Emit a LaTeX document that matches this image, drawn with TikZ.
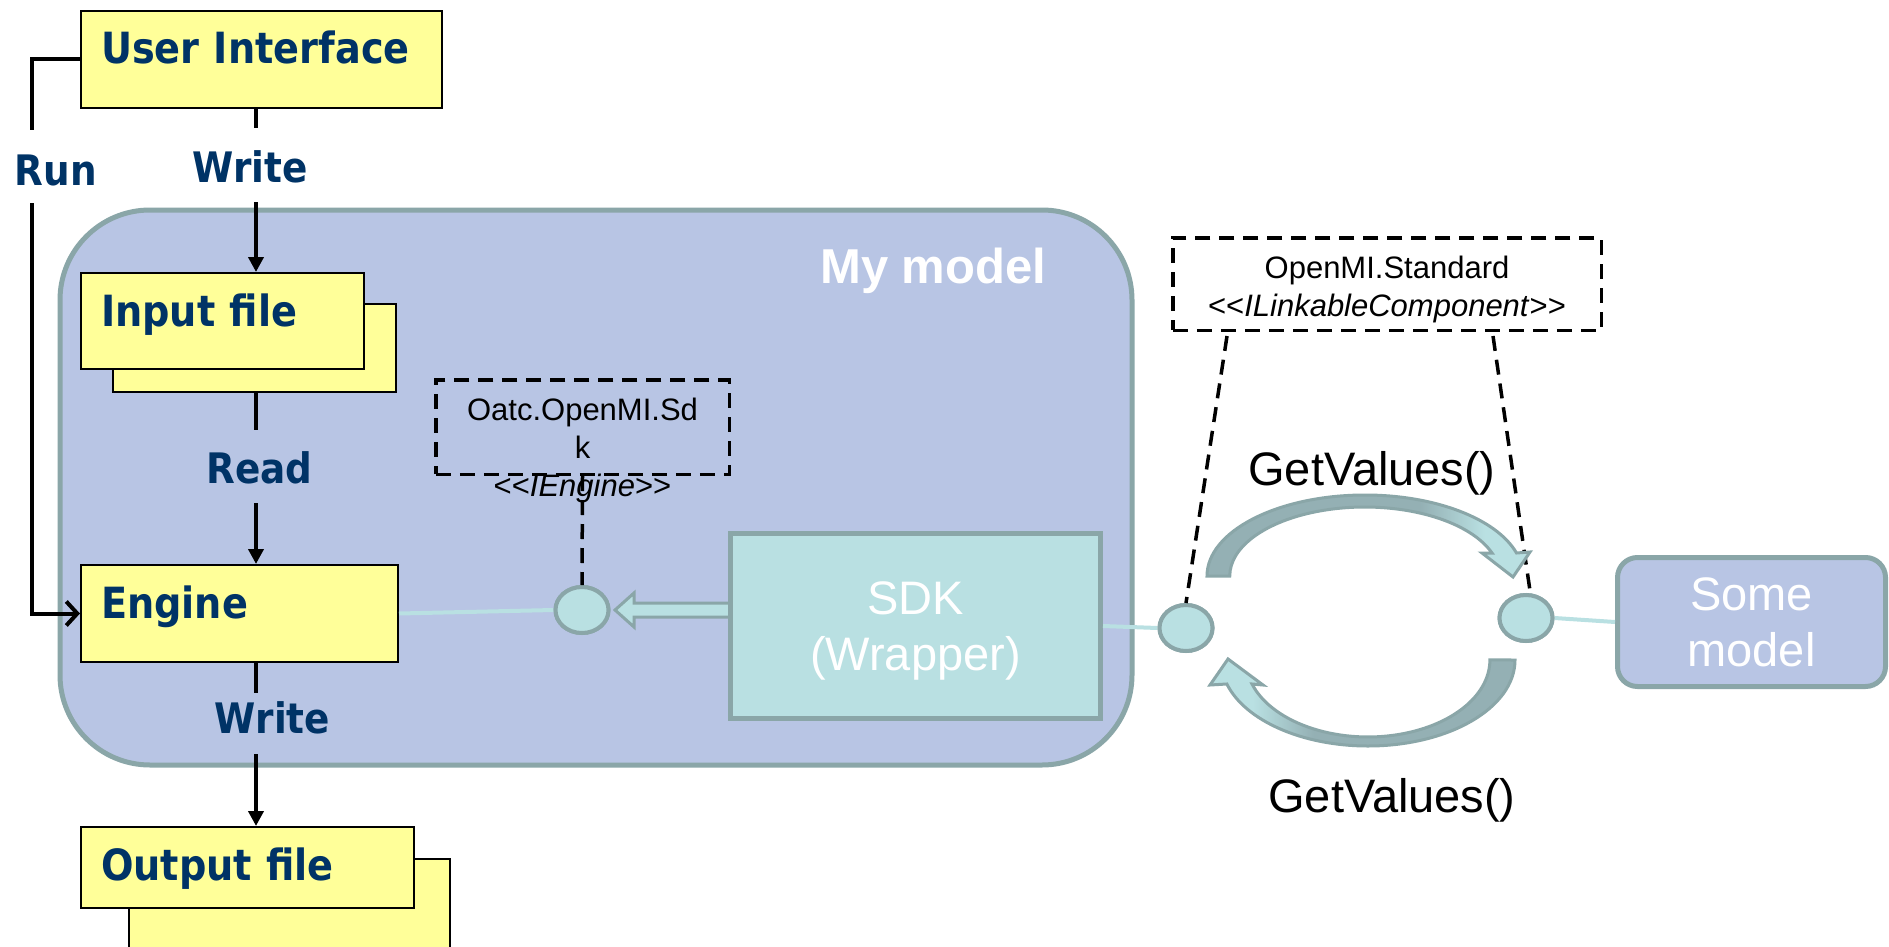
\documentclass[tikz,border=0pt]{standalone}
\usepackage{fontspec}
\setmainfont{Liberation Sans}
\newfontfamily\tahfont[FakeStretch=0.89]{DejaVu Sans}
\usetikzlibrary{arrows.meta,shapes.geometric,calc}

\definecolor{navy}{RGB}{0,51,102}
\definecolor{paleyellow}{RGB}{255,255,153}
\definecolor{modelblue}{RGB}{184,197,228}
\definecolor{greyteal}{RGB}{138,166,168}
\definecolor{paleteal}{RGB}{185,224,226}
\definecolor{bandgrey}{RGB}{148,176,180}

% guillemet-free angle brackets
\newcommand\ltlt{<\kern0pt<}
\newcommand\gtgt{>\kern0pt>}

% shading of the curved call arrows: grey tail, pale head
\pgfdeclarehorizontalshading{bandfwd}{100bp}{color(0bp)=(bandgrey); color(58bp)=(bandgrey); color(68bp)=(paleteal); color(100bp)=(paleteal)}
\pgfdeclarehorizontalshading{bandrev}{100bp}{color(0bp)=(paleteal); color(32bp)=(paleteal); color(42bp)=(bandgrey); color(100bp)=(bandgrey)}

\tikzset{
  filebox/.style 2 args={draw=black, line width=2pt, fill=paleyellow, anchor=north west,
    inner xsep=20pt, inner ysep=0pt, text width=#1, text height=53pt, text depth=#2,
    align=left, text=navy, font=\tahfont\bfseries\fontsize{43}{50}\selectfont},
  filecopy/.style={draw=black, line width=2pt, fill=paleyellow, anchor=north west, inner sep=0pt},
  flowlab/.style={anchor=base, inner sep=0pt, text=navy,
    font=\tahfont\bfseries\fontsize{42}{50}\selectfont},
  flowline/.style={draw=black, line width=4pt},
  flowarrow/.style={flowline, -{Triangle[length=15pt,width=15pt]}},
  runarrow/.style={flowline, -{Straight Barb[length=11pt,width=24pt]}},
  port/.style={ellipse, draw=greyteal, fill=paleteal, line width=4pt,
    minimum width=53pt, minimum height=46pt, inner sep=0pt},
  link/.style={draw=paleteal, line width=4pt},
  iface/.style={draw=black, line width=3.5pt, dash pattern=on 15pt off 9pt, align=center,
    inner sep=0pt, font=\fontsize{31}{38}\selectfont},
  dashlink/.style={draw=black, line width=3.5pt, dash pattern=on 15pt off 9pt},
  band/.style={draw=greyteal, line width=3pt},
  call/.style={anchor=base, inner sep=0pt, font=\fontsize{47}{56}\selectfont},
  modelbox/.style={draw=greyteal, line width=5pt, align=center, text=white,
    font=\fontsize{47}{56}\selectfont}
}

\begin{document}
\begin{tikzpicture}[x=1pt,y=-1pt]
\clip (0,0) rectangle (1889,947);
\fill[white] (0,0) rectangle (1889,947);

% the wrapped model
\draw[draw=greyteal, fill=modelblue, line width=5pt, rounded corners=90pt] (60,210) rectangle (1132,765);
\node[anchor=base west, inner sep=0pt, text=white, font=\bfseries\fontsize{49}{58}\selectfont] (mylab) at (820,283) {My model};

% files and programs
\node[filebox={321pt}{44pt}] (ui) at (80,10) {User Interface};
\node[filecopy, minimum width=283pt, minimum height=88pt] (inS) at (112,303) {};
\node[filebox={243pt}{43pt}] (input) at (80,272) {Input file};
\node[filebox={277pt}{44pt}] (engine) at (80,564) {Engine};
\node[filecopy, minimum width=321pt, minimum height=120pt] (outS) at (128,858) {};
\node[filebox={293pt}{28pt}] (output) at (80,826) {Output file};

% flow labels
\node[flowlab] (runlab) at (56,185) {Run};
\node[flowlab] (wr1) at (250,182) {Write};
\node[flowlab] (rdlab) at (259.5,483) {Read};
\node[flowlab] (wr2) at (272.5,733) {Write};

% flow connectors
\coordinate (runTop) at (32,130);
\coordinate (runBot) at (32,203);
\draw[flowline] (ui.west) -| (runTop);
\draw[runarrow] (runBot) |- (engine.west);

\coordinate (w1a) at (256,128);
\coordinate (w1b) at (256,202);
\draw[flowline] (ui.south -| w1a) -- (w1a);
\draw[flowarrow] (w1b) -- (input.north -| w1b);

\coordinate (rda) at (256,430);
\coordinate (rdb) at (256,503);
\draw[flowline] (inS.south -| rda) -- (rda);
\draw[flowarrow] (rdb) -- (engine.north -| rdb);

\coordinate (w2a) at (256,693);
\coordinate (w2b) at (256,754);
\draw[flowline] (engine.south -| w2a) -- (w2a);
\draw[flowarrow] (w2b) -- (output.north -| w2b);

% ports
\node[port] (pE) at (582,610) {};
\node[port] (pL) at (1186,628) {};
\node[port] (pR) at (1526,618) {};

% SDK wrapper and its hollow arrow to the engine port
\coordinate (hT) at (615,610);
\coordinate (hB) at (728,610);
\filldraw[draw=greyteal, fill=paleteal, line width=3pt, line join=miter]
  ($(hB)+(0,-7)$) -- ($(hT)+(19,-7)$) -- ($(hT)+(19,-17)$) -- (hT) --
  ($(hT)+(19,17)$) -- ($(hT)+(19,7)$) -- ($(hB)+(0,7)$);
\node[modelbox, fill=paleteal, minimum width=370pt, minimum height=185pt, text depth=0pt] (sdk) at (915.5,626) {SDK\\(Wrapper)};

\node[modelbox, fill=modelblue, rounded corners=20pt, minimum width=268pt, minimum height=129pt] (some) at (1751.5,622) {Some\\model};

% links to ports
\draw[link] (engine.east) -- (pE.west);
\draw[link] (sdk.east) -- (pL.west);
\draw[link] (pR.east) -- (some.west);
\node[port] at (pE) {};
\node[port] at (pL) {};
\node[port] at (pR) {};

% interfaces
\node[iface, minimum width=293.5pt, minimum height=94.5pt, text width=290pt, text height=40.5pt, text depth=54pt] (oatc) at (582.5,427)
  {Oatc.OpenMI.Sd\\k\\\ltlt\textit{IEngine}\gtgt};
\node[iface, minimum width=428.5pt, minimum height=92.5pt, text width=425pt, text height=41pt, text depth=51.5pt] (std) at (1387,284)
  {OpenMI.Standard\\\ltlt\textit{ILinkableComponent}\gtgt};

\draw[dashlink] (oatc.south) -- (pE.north);
\coordinate (sL) at ($(std.south west)+(56,4)$);
\coordinate (sR) at ($(std.south east)+(-110,4)$);
\draw[dashlink] (sL) -- (pL.north);
\draw[dashlink] (sR) -- (pR.80);

% GetValues() calls in both directions
\shadedraw[band, shading=bandfwd]
  (1207,576) arc[start angle=180, end angle=343.5, x radius=158, y radius=81]
  -- (1530,552) -- (1513,577) -- (1482,553) -- (1492,553)
  arc[start angle=340.5, end angle=180, x radius=135, y radius=69] -- cycle;
\shadedraw[band, shading=bandrev]
  (1515,660) arc[start angle=0, end angle=163.8, x radius=147, y radius=86]
  -- (1210,685) -- (1228,659) -- (1263,685) -- (1252,684)
  arc[start angle=161.8, end angle=0, x radius=122, y radius=77] -- cycle;

\node[call] (gvTop) at (1372,485) {GetValues()};
\node[call] (gvBot) at (1392,812) {GetValues()};
\end{tikzpicture}
\end{document}
